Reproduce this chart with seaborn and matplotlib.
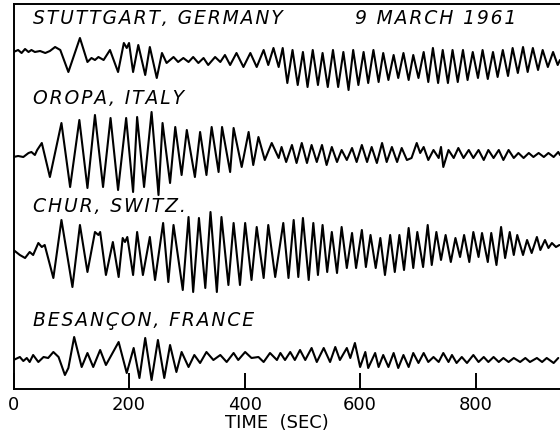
import numpy as np
import pandas as pd
import matplotlib
matplotlib.use("Agg")
import matplotlib.pyplot as plt
import seaborn as sns

# ---------------- data (time in s, trace deflection in arbitrary units) -------------
t_stuttgart = [0, 8, 14, 20, 26, 31, 37, 46, 55, 63, 72, 81, 95, 115, 128, 135, 141, 147, 156, 167,
               181, 191, 196, 200, 207, 216, 228, 236, 248, 257, 265, 277, 285, 294, 303, 311, 320, 329, 337, 349,
               358, 366, 375, 386, 398, 410, 421, 433, 441, 450, 459,
               466, 474, 483, 492, 501, 509, 518, 527, 535, 544, 553, 562, 571, 580, 588, 597, 606, 614, 623, 632,
               640, 649, 658, 666, 675, 684, 692, 701, 710, 718, 726, 735, 743, 752, 760, 769, 778, 786, 795, 804,
               812, 821, 830, 838, 847, 856, 864, 873, 882, 890, 899, 908, 916, 925, 934, 942, 946]
a_stuttgart = [8, 10, 7, 11, 8, 10, 8, 9, 7, 9, 13, 10, -12, 22, -2, 2, 0, 3, 0, 10,
               -12, 17, 12, 17, -12, 15, -15, 13, -18, 7, -3, 3, -2, 2, -2, 3, -3, 2, -5, 3,
               -2, 5, -5, 7, -7, 7, -7, 10, -5, 12, -7,
               12, -23, 10, -25, 8, -27, 10, -25, 7, -27, 10, -27, 8, -30, 10, -25, 8, -23, 10, -22,
               7, -20, 5, -18, 7, -20, 5, -18, 8, -22, 12, -23, 10, -23, 10, -22, 10, -20, 8, -18,
               10, -19, 8, -17, 10, -16, 12, -13, 13, -12, 12, -10, 10, -7, 8, -5, 0]

t_oropa = [0, 8, 17, 26, 31, 37, 41, 49, 63, 83, 98, 114, 128, 141, 155, 168, 181, 195, 207, 214,
           226, 239, 251, 258, 271, 280, 291, 300, 314, 323, 334, 343, 355, 361, 375, 381, 395, 407, 415, 424,
           435, 447, 459,
           464, 472, 482, 490, 499, 508, 516, 525, 534, 542, 551, 560, 568, 577, 586, 594, 603, 612, 620, 629,
           638, 646, 655, 664, 672, 681, 689, 698, 704, 710, 718, 727, 736, 740, 744, 753, 762, 770, 779, 788,
           796, 805, 814, 822, 831, 840, 848, 857, 866, 874, 883, 892, 900, 909, 918, 926, 935, 943, 946]
a_oropa = [-2, -1, -2, 2, 3, 0, 5, 12, -22, 32, -32, 35, -33, 40, -32, 37, -35, 37, -37, 38,
           -32, 43, -40, 32, -28, 28, -20, 25, -22, 23, -20, 28, -17, 28, -17, 27, -12, 23, -10, 18,
           -5, 12, -3,
           8, -7, 10, -8, 12, -8, 10, -7, 10, -10, 8, -7, 5, -5, 7, -7, 10, -7, 8, -8,
           12, -7, 8, -7, 7, -5, -3, 12, 2, 8, -5, 5, -3, 8, -12, 5, -3, 7, -3, 5,
           -3, 5, -5, 5, -3, 5, -5, 5, -3, 2, -3, 2, -2, 2, -2, 2, -2, 3, 0]

t_chur = [0, 11, 20, 28, 34, 43, 49, 54, 69, 83, 102, 115, 128, 141, 147, 150, 160, 172, 182, 189,
          193, 197, 207, 214, 224, 236, 245, 259, 268, 277, 293, 303, 311, 321, 332, 341, 352, 360, 372, 381,
          392, 401, 412, 421, 433, 441, 453,
          467, 476, 485, 493, 501, 511, 519, 527, 535, 543, 551, 560, 568, 577, 586, 593, 603, 610, 618, 627,
          635, 643, 652, 660, 668, 676, 684, 692, 699, 709, 717, 724, 732, 740, 748, 757, 765, 773, 780, 789,
          796, 805, 811, 821, 827, 836, 844, 851, 859, 866, 872, 882, 889, 897, 906, 912, 920, 926, 932, 939, 945]
a_chur = [2, -3, -6, 0, -3, 9, 5, 7, -26, 32, -35, 27, -20, 20, 17, 20, -23, 10, -25, 14,
          10, 15, -23, 20, -23, 15, -28, 29, -30, 27, -38, 35, -40, 34, -36, 40, -40, 35, -33, 29,
          -33, 29, -28, 25, -26, 27, -25,
          29, -26, 32, -25, 34, -28, 29, -23, 27, -20, 20, -21, 25, -16, 19, -16, 22, -15, 17, -16,
          14, -23, 17, -20, 17, -18, 24, -16, 20, -15, 27, -13, 20, -8, 17, -10, 14, -5, 17, -10,
          20, -5, 19, -10, 19, -13, 25, -6, 20, -3, 17, -3, 12, -1, 15, 2, 12, 4, 9, 5, 7]

t_besancon = [0, 11, 17, 23, 28, 34, 43, 52, 60, 69, 78, 89, 95, 105, 118, 128, 138, 150, 160, 182,
              196, 208, 218, 228, 239, 250, 261, 271, 282, 291, 303, 313, 323, 334, 346, 358, 369, 381, 389, 401,
              412, 424, 433, 444, 456,
              462, 470, 479, 487, 496, 505, 516, 525, 537, 548, 557, 565, 577, 583, 591, 600, 609, 614, 626, 632,
              640, 649, 658, 666, 675, 684, 692, 701, 710, 718, 727, 736, 744, 753, 759, 767, 776, 785, 796, 805,
              814, 822, 831, 840, 848, 857, 866, 877, 886, 894, 906, 915, 923, 935, 943]
a_besancon = [-2, 1, -3, 0, -4, 3, -4, 1, 0, 6, 1, -17, -10, 21, -9, 5, -9, 8, -7, 16,
              -15, 10, -20, 20, -22, 18, -20, 13, -14, 6, -9, 3, -5, 6, -2, 3, -4, 5, -2, 6,
              0, 1, -4, 5, -2,
              5, -2, 6, -2, 8, -2, 10, -4, 10, -4, 11, -2, 10, 0, 15, -9, 6, -10, 5, -9,
              3, -9, 5, -10, 3, -9, 5, -5, 5, -4, 1, -4, 5, -4, 3, -5, 1, -5, 3, -4,
              1, -4, 1, -4, 0, -4, 0, -4, 0, -4, 0, -4, 0, -5, 0]

station_names = ["STUTTGART, GERMANY", "OROPA, ITALY", "CHUR, SWITZ.", "BESANÇON, FRANCE"]
date_label = "9 MARCH 1961"
tick_values = [0, 200, 400, 600, 800]
x_label = "TIME (SEC)"

# ---------------- layout ----------------
trace_base = [329, 234, 137, 31]      # vertical placement of each trace
label_y = [370, 290, 183, 69]
HAIR = "\u200a"


def spaced(s):
    # wide drafting-style lettering: hair space between letters
    return HAIR.join(s)


frames = []
for name, t, a, base in zip(station_names,
                            [t_stuttgart, t_oropa, t_chur, t_besancon],
                            [a_stuttgart, a_oropa, a_chur, a_besancon],
                            trace_base):
    frames.append(pd.DataFrame({"time": t, "y": np.array(a) + base, "station": name}))
df = pd.concat(frames, ignore_index=True)

sns.set_style("white")
plt.rcParams["font.family"] = ["DejaVu Sans"]
plt.rcParams["text.color"] = "black"

fig = plt.figure(figsize=(5.6, 4.37), dpi=100)
ax = fig.add_axes([13.5 / 560, 1 - 389 / 437, 1 - 13.5 / 560, 385 / 437])

sns.lineplot(data=df, x="time", y="y", units="station", estimator=None, sort=False,
             color="black", lw=1.5, ax=ax)
for ln in ax.lines:
    ln.set_solid_joinstyle("round")
    ln.set_solid_capstyle("round")

ax.set_xlim(0, 946)
ax.set_ylim(0, 385)
ax.set_yticks([])
ax.set_ylabel("")
ax.set_xticks(tick_values)
ax.set_xticklabels([str(v) for v in tick_values])
ax.tick_params(axis="x", direction="in", length=11.5, width=1.4, pad=5,
               labelsize=13, colors="black", labelcolor="black", bottom=True)
ax.set_xlabel(x_label.replace(" ", "  "), fontsize=13, color="black")
ax.xaxis.set_label_coords(0.482, -0.088)
ax.xaxis.label.set_va("center")

for side in ["left", "top", "bottom"]:
    ax.spines[side].set_visible(True)
    ax.spines[side].set_linewidth(1.4)
    ax.spines[side].set_color("black")
ax.spines["right"].set_visible(False)

for name, ly in zip(station_names, label_y):
    ax.text(34, ly, spaced(name), fontsize=13.5, style="italic", ha="left", va="center", color="black")
ax.text(591, label_y[0], spaced(date_label), fontsize=13.5, style="italic", ha="left", va="center",
        color="black")

fig.savefig("out.png", dpi=100)
